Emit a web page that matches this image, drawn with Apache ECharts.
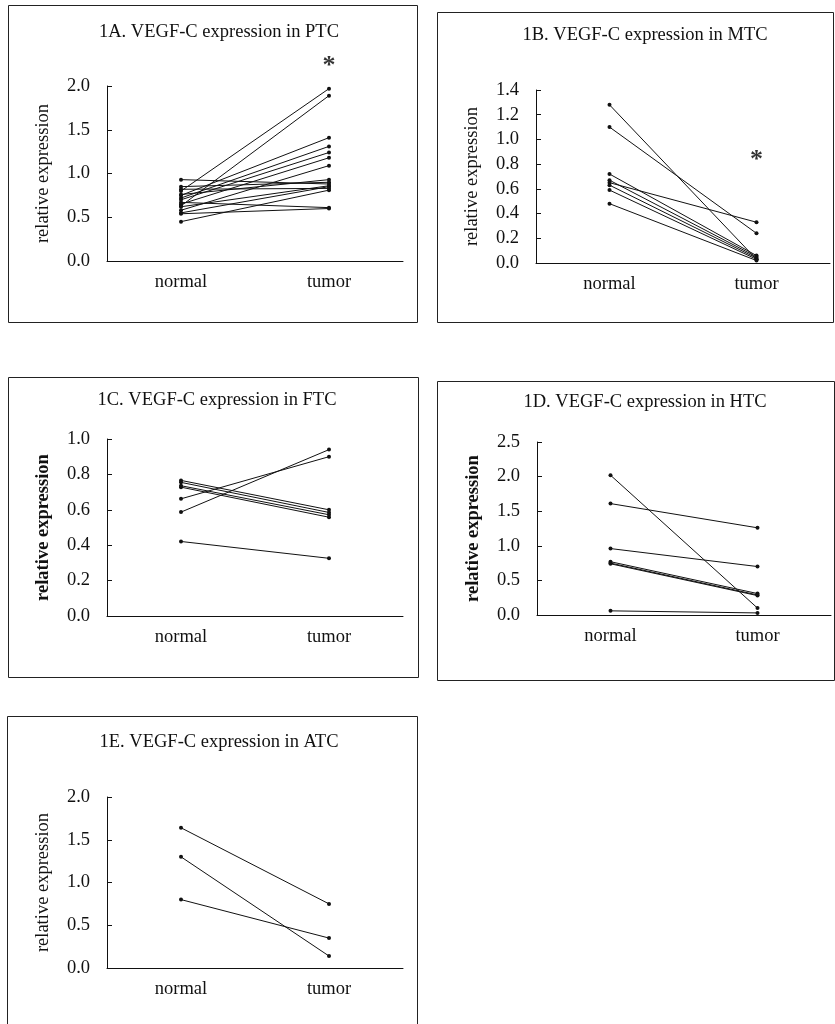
<!DOCTYPE html>
<html>
<head>
<meta charset="utf-8">
<title>VEGF-C expression</title>
<script src="https://cdn.jsdelivr.net/npm/echarts@6/dist/echarts.min.js"></script>
<style>
  html, body { margin: 0; padding: 0; background: #fff; }
  #chart { width: 835px; height: 1024px; }
</style>
</head>
<body>
<div id="chart"></div>
<script>
// categories
var categories = ['normal', 'tumor'];

// 1A PTC - each index is one patient (normal -> tumor)
var ptcNormal = [0.80, 0.63, 0.75, 0.72, 0.70, 0.65, 0.58, 0.93, 0.85, 0.76, 0.62, 0.55, 0.45, 0.67, 0.54, 0.82];
var ptcTumor  = [1.97, 1.89, 1.41, 1.31, 1.24, 1.18, 1.09, 0.88, 0.90, 0.93, 0.86, 0.85, 0.81, 0.61, 0.60, 0.83];

// 1B MTC
var mtcNormal = [1.28, 1.10, 0.72, 0.67, 0.65, 0.63, 0.59, 0.48];
var mtcTumor  = [0.03, 0.24, 0.06, 0.05, 0.33, 0.04, 0.03, 0.02];

// 1C FTC
var ftcNormal = [0.766, 0.755, 0.736, 0.728, 0.662, 0.587, 0.421];
var ftcTumor  = [0.60, 0.585, 0.572, 0.558, 0.90, 0.94, 0.326];

// 1D HTC
var htcNormal = [2.02, 1.61, 0.96, 0.77, 0.75, 0.74, 0.06];
var htcTumor  = [0.10, 1.26, 0.70, 0.31, 0.29, 0.28, 0.03];

// 1E ATC
var atcNormal = [1.64, 1.30, 0.80];
var atcTumor  = [0.75, 0.14, 0.35];

// asterisk (significance) positions, value on y axis at "tumor"
var starPTC = 2.23;
var starMTC = 0.83;

var titles = [
  '1A. VEGF-C expression in PTC',
  '1B. VEGF-C expression in MTC',
  '1C. VEGF-C expression in FTC',
  '1D. VEGF-C expression in HTC',
  '1E. VEGF-C expression in ATC'
];
var yMax = [2.0, 1.4, 1.0, 2.5, 2.0];
var yStep = [0.5, 0.2, 0.2, 0.5, 0.5];

var FONT = '"Liberation Serif", "Times New Roman", serif';

var panels = [
  {normal: ptcNormal, tumor: ptcTumor, star: starPTC},
  {normal: mtcNormal, tumor: mtcTumor, star: starMTC},
  {normal: ftcNormal, tumor: ftcTumor},
  {normal: htcNormal, tumor: htcTumor},
  {normal: atcNormal, tumor: atcTumor}
];

// layout (px)
var grids = [
  {left: 107, top: 86, width: 296, height: 175},
  {left: 536, top: 90, width: 294, height: 173},
  {left: 107, top: 439, width: 296, height: 177},
  {left: 537, top: 442, width: 294, height: 173},
  {left: 107, top: 797, width: 296, height: 171}
];
var titlePos = [[214, 18], [640, 21], [212, 386], [640, 388], [214, 728]];
var boxes = [
  [8, 5, 409, 317],
  [437, 12, 396, 310],
  [8, 377, 410, 300],
  [437, 381, 397, 299],
  [7, 716, 410, 320]
];

var option = {
  backgroundColor: '#fff',
  animation: false,
  title: [],
  grid: [],
  xAxis: [],
  yAxis: [],
  series: [],
  graphic: []
};

boxes.forEach(function (b) {
  option.graphic.push({
    type: 'rect',
    shape: {x: b[0] + 0.5, y: b[1] + 0.5, width: b[2], height: b[3]},
    style: {fill: 'none', stroke: '#222', lineWidth: 1},
    silent: true
  });
});

panels.forEach(function (p, i) {
  option.title.push({
    text: titles[i],
    left: titlePos[i][0],
    top: titlePos[i][1],
    textAlign: 'center',
    textStyle: {fontFamily: FONT, fontSize: 18.5, fontWeight: 'normal', color: '#111'}
  });
  option.grid.push(grids[i]);
  option.xAxis.push({
    type: 'category',
    gridIndex: i,
    data: categories,
    boundaryGap: true,
    axisLine: {lineStyle: {color: '#111', width: 1}},
    axisTick: {inside: true, length: 5, lineStyle: {color: '#111'}},
    axisLabel: {fontFamily: FONT, fontSize: 18.5, color: '#111', margin: 12}
  });
  option.yAxis.push({
    type: 'value',
    gridIndex: i,
    min: 0,
    max: yMax[i],
    interval: yStep[i],
    name: 'relative expression',
    nameLocation: 'middle',
    nameGap: 54,
    nameTextStyle: {fontFamily: FONT, fontSize: 18.5, color: '#111',
      fontWeight: (i === 2 || i === 3) ? 'bold' : 'normal'},
    axisLine: {show: true, lineStyle: {color: '#111', width: 1}},
    axisTick: {show: true, inside: true, length: 5, lineStyle: {color: '#111'}},
    splitLine: {show: false},
    axisLabel: {
      fontFamily: FONT, fontSize: 18.5, color: '#111', margin: 17,
      formatter: function (v) { return v.toFixed(1); }
    }
  });
  for (var k = 0; k < p.normal.length; k++) {
    option.series.push({
      type: 'line',
      xAxisIndex: i,
      yAxisIndex: i,
      data: [p.normal[k], p.tumor[k]],
      symbol: 'circle',
      symbolSize: 4,
      showSymbol: true,
      lineStyle: {color: '#111', width: 1},
      itemStyle: {color: '#111'},
      silent: true
    });
  }
  if (p.star != null) {
    option.series.push({
      type: 'scatter',
      xAxisIndex: i,
      yAxisIndex: i,
      clip: false,
      data: [['tumor', p.star]],
      symbolSize: 0,
      itemStyle: {color: '#000'},
      label: {
        show: true,
        position: 'inside',
        formatter: '*',
        fontFamily: FONT,
        fontSize: 26,
        fontWeight: 'bold',
        color: '#000',
        textBorderWidth: 0
      }
    });
  }
});

var chart = echarts.init(document.getElementById('chart'));
chart.setOption(option);
</script>
</body>
</html>
